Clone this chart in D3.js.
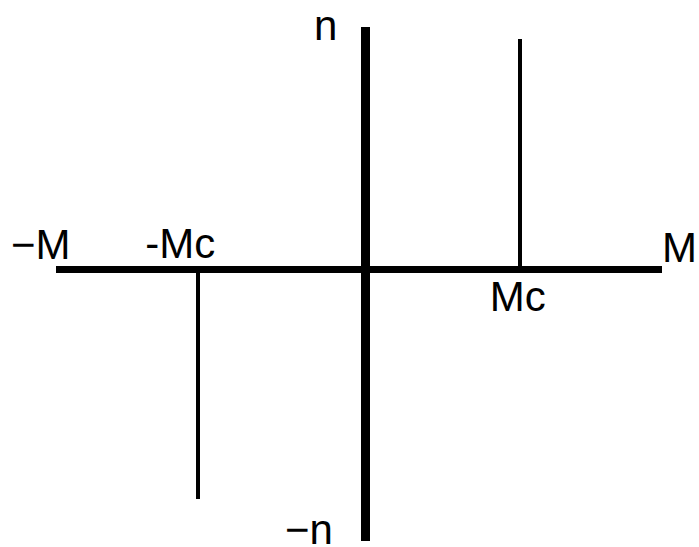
<!DOCTYPE html>
<html>
<head>
<meta charset="utf-8">
<script src="https://cdn.jsdelivr.net/npm/d3@7"></script>
<style>
  html, body { margin: 0; padding: 0; background: #fff; }
  svg { display: block; }
  text { font-family: "Liberation Sans", Arial, sans-serif; font-size: 42px; fill: #000; }
</style>
</head>
<body>
<script>
// Axis extents in normalised units (−M..M horizontally, −n..n vertically)
const mDomain = [-1, 0, 1];
const nDomain = [-1, 0, 1];

// Critical moment stems: position along M and the height reached along n
const stemM = [-0.54, 0.52];
const stemN = [-0.845, 0.95];

// Axis end labels and stem labels
const axisLabels = ["−M", "M", "n", "−n"];
const axisLabelPos = [[-1, 0], [1, 0], [0, 1], [0, -1]];
const stemLabels = ["-Mc", "Mc"];

const width = 699, height = 547;

const x = d3.scaleLinear().domain(mDomain).range([56, 365.5, 662]);
const y = d3.scaleLinear().domain(nDomain).range([541, 269.5, 27]);

const svg = d3.select("body").append("svg")
  .attr("width", width).attr("height", height);

// Horizontal axis (M)
svg.append("line")
  .attr("x1", x(mDomain[0])).attr("x2", x(mDomain[2]))
  .attr("y1", y(0)).attr("y2", y(0))
  .attr("stroke", "#000").attr("stroke-width", 7)
  .attr("shape-rendering", "crispEdges");

// Vertical axis (n)
svg.append("line")
  .attr("x1", x(0)).attr("x2", x(0))
  .attr("y1", y(nDomain[2])).attr("y2", y(nDomain[0]))
  .attr("stroke", "#000").attr("stroke-width", 9)
  .attr("shape-rendering", "crispEdges");

// Stems at ±Mc
svg.selectAll("line.stem")
  .data(stemM.map((m, i) => ({ m, n: stemN[i] })))
  .join("line")
  .attr("class", "stem")
  .attr("x1", d => x(d.m)).attr("x2", d => x(d.m))
  .attr("y1", y(0)).attr("y2", d => y(d.n))
  .attr("stroke", "#000").attr("stroke-width", 4)
  .attr("shape-rendering", "crispEdges");

// Axis end labels (offsets relative to the axis ends)
const axisOffsets = [[-45, -11], [0, -8], [-51.5, 13], [-80.5, 3]];
svg.selectAll("text.axis")
  .data(axisLabels)
  .join("text")
  .attr("class", "axis")
  .attr("x", (d, i) => x(axisLabelPos[i][0]) + axisOffsets[i][0])
  .attr("y", (d, i) => y(axisLabelPos[i][1]) + axisOffsets[i][1])
  .text(d => d);

// Stem labels: −Mc above the axis, Mc below
const stemOffsets = [[-53, -11.5], [-30, 41.5]];
svg.selectAll("text.stem")
  .data(stemLabels)
  .join("text")
  .attr("class", "stem")
  .attr("x", (d, i) => x(stemM[i]) + stemOffsets[i][0])
  .attr("y", (d, i) => y(0) + stemOffsets[i][1])
  .text(d => d);
</script>
</body>
</html>
